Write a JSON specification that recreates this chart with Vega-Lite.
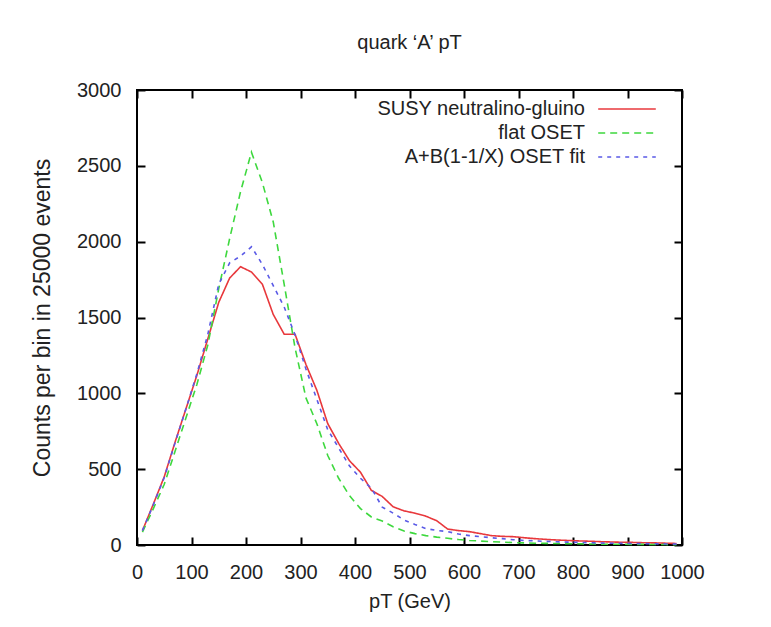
{
  "$schema": "https://vega.github.io/schema/vega-lite/v6.json",
  "width": 545,
  "height": 455,
  "autosize": {"type": "none"},
  "padding": {"left": 137, "top": 90, "right": 89, "bottom": 82},
  "background": "white",
  "config": {
    "view": {"stroke": "black", "strokeWidth": 2},
    "font": "Liberation Sans",
    "axis": {"grid": false, "domain": false, "ticks": true, "tickColor": "black", "tickWidth": 2, "tickSize": 8, "offset": -8, "format": "d", "labelFlush": false, "labelOverlap": false, "labelColor": "#222", "titleColor": "#222", "labelFontSize": 20, "titleFontSize": 20, "titleFontWeight": "normal", "labelFont": "Liberation Sans", "titleFont": "Liberation Sans"}
  },
  "title": {"text": "quark ‘A’ pT", "fontSize": 20, "fontWeight": "normal", "font": "Liberation Sans", "color": "#222", "offset": 27},
  "data": {"values": [
    {"s":"SUSY neutralino-gluino","pt":10,"n":95},{"s":"SUSY neutralino-gluino","pt":30,"n":270},{"s":"SUSY neutralino-gluino","pt":50,"n":450},{"s":"SUSY neutralino-gluino","pt":70,"n":680},{"s":"SUSY neutralino-gluino","pt":90,"n":900},{"s":"SUSY neutralino-gluino","pt":110,"n":1120},{"s":"SUSY neutralino-gluino","pt":130,"n":1360},{"s":"SUSY neutralino-gluino","pt":150,"n":1600},{"s":"SUSY neutralino-gluino","pt":170,"n":1760},{"s":"SUSY neutralino-gluino","pt":190,"n":1835},{"s":"SUSY neutralino-gluino","pt":210,"n":1800},{"s":"SUSY neutralino-gluino","pt":230,"n":1720},{"s":"SUSY neutralino-gluino","pt":250,"n":1520},{"s":"SUSY neutralino-gluino","pt":270,"n":1390},{"s":"SUSY neutralino-gluino","pt":290,"n":1390},{"s":"SUSY neutralino-gluino","pt":310,"n":1190},{"s":"SUSY neutralino-gluino","pt":330,"n":1020},{"s":"SUSY neutralino-gluino","pt":350,"n":800},{"s":"SUSY neutralino-gluino","pt":370,"n":670},{"s":"SUSY neutralino-gluino","pt":390,"n":555},{"s":"SUSY neutralino-gluino","pt":410,"n":480},{"s":"SUSY neutralino-gluino","pt":430,"n":360},{"s":"SUSY neutralino-gluino","pt":450,"n":320},{"s":"SUSY neutralino-gluino","pt":470,"n":252},{"s":"SUSY neutralino-gluino","pt":490,"n":225},{"s":"SUSY neutralino-gluino","pt":510,"n":210},{"s":"SUSY neutralino-gluino","pt":530,"n":190},{"s":"SUSY neutralino-gluino","pt":550,"n":160},{"s":"SUSY neutralino-gluino","pt":570,"n":105},{"s":"SUSY neutralino-gluino","pt":590,"n":95},{"s":"SUSY neutralino-gluino","pt":610,"n":88},{"s":"SUSY neutralino-gluino","pt":630,"n":75},{"s":"SUSY neutralino-gluino","pt":650,"n":62},{"s":"SUSY neutralino-gluino","pt":670,"n":57},{"s":"SUSY neutralino-gluino","pt":690,"n":55},{"s":"SUSY neutralino-gluino","pt":710,"n":48},{"s":"SUSY neutralino-gluino","pt":730,"n":42},{"s":"SUSY neutralino-gluino","pt":750,"n":37},{"s":"SUSY neutralino-gluino","pt":770,"n":33},{"s":"SUSY neutralino-gluino","pt":790,"n":30},{"s":"SUSY neutralino-gluino","pt":810,"n":27},{"s":"SUSY neutralino-gluino","pt":830,"n":25},{"s":"SUSY neutralino-gluino","pt":850,"n":22},{"s":"SUSY neutralino-gluino","pt":870,"n":20},{"s":"SUSY neutralino-gluino","pt":890,"n":18},{"s":"SUSY neutralino-gluino","pt":910,"n":17},{"s":"SUSY neutralino-gluino","pt":930,"n":15},{"s":"SUSY neutralino-gluino","pt":950,"n":14},{"s":"SUSY neutralino-gluino","pt":970,"n":12},{"s":"SUSY neutralino-gluino","pt":990,"n":10},
    {"s":"flat OSET","pt":10,"n":85},{"s":"flat OSET","pt":30,"n":240},{"s":"flat OSET","pt":50,"n":400},{"s":"flat OSET","pt":70,"n":620},{"s":"flat OSET","pt":90,"n":840},{"s":"flat OSET","pt":110,"n":1060},{"s":"flat OSET","pt":130,"n":1320},{"s":"flat OSET","pt":150,"n":1690},{"s":"flat OSET","pt":170,"n":2020},{"s":"flat OSET","pt":190,"n":2330},{"s":"flat OSET","pt":210,"n":2590},{"s":"flat OSET","pt":230,"n":2390},{"s":"flat OSET","pt":250,"n":2130},{"s":"flat OSET","pt":270,"n":1720},{"s":"flat OSET","pt":290,"n":1300},{"s":"flat OSET","pt":310,"n":970},{"s":"flat OSET","pt":330,"n":800},{"s":"flat OSET","pt":350,"n":590},{"s":"flat OSET","pt":370,"n":440},{"s":"flat OSET","pt":390,"n":325},{"s":"flat OSET","pt":410,"n":240},{"s":"flat OSET","pt":430,"n":185},{"s":"flat OSET","pt":450,"n":158},{"s":"flat OSET","pt":470,"n":120},{"s":"flat OSET","pt":490,"n":92},{"s":"flat OSET","pt":510,"n":75},{"s":"flat OSET","pt":530,"n":62},{"s":"flat OSET","pt":550,"n":52},{"s":"flat OSET","pt":570,"n":44},{"s":"flat OSET","pt":590,"n":36},{"s":"flat OSET","pt":610,"n":30},{"s":"flat OSET","pt":630,"n":26},{"s":"flat OSET","pt":650,"n":22},{"s":"flat OSET","pt":670,"n":19},{"s":"flat OSET","pt":690,"n":16},{"s":"flat OSET","pt":710,"n":14},{"s":"flat OSET","pt":730,"n":12},{"s":"flat OSET","pt":750,"n":11},{"s":"flat OSET","pt":770,"n":10},{"s":"flat OSET","pt":790,"n":9},{"s":"flat OSET","pt":810,"n":8},{"s":"flat OSET","pt":830,"n":7},{"s":"flat OSET","pt":850,"n":6},{"s":"flat OSET","pt":870,"n":5},{"s":"flat OSET","pt":890,"n":5},{"s":"flat OSET","pt":910,"n":4},{"s":"flat OSET","pt":930,"n":4},{"s":"flat OSET","pt":950,"n":3},{"s":"flat OSET","pt":970,"n":3},{"s":"flat OSET","pt":990,"n":2},
    {"s":"A+B(1-1/X) OSET fit","pt":10,"n":95},{"s":"A+B(1-1/X) OSET fit","pt":30,"n":265},{"s":"A+B(1-1/X) OSET fit","pt":50,"n":445},{"s":"A+B(1-1/X) OSET fit","pt":70,"n":675},{"s":"A+B(1-1/X) OSET fit","pt":90,"n":900},{"s":"A+B(1-1/X) OSET fit","pt":110,"n":1130},{"s":"A+B(1-1/X) OSET fit","pt":130,"n":1390},{"s":"A+B(1-1/X) OSET fit","pt":150,"n":1720},{"s":"A+B(1-1/X) OSET fit","pt":170,"n":1860},{"s":"A+B(1-1/X) OSET fit","pt":190,"n":1905},{"s":"A+B(1-1/X) OSET fit","pt":210,"n":1966},{"s":"A+B(1-1/X) OSET fit","pt":230,"n":1850},{"s":"A+B(1-1/X) OSET fit","pt":250,"n":1710},{"s":"A+B(1-1/X) OSET fit","pt":270,"n":1570},{"s":"A+B(1-1/X) OSET fit","pt":290,"n":1385},{"s":"A+B(1-1/X) OSET fit","pt":310,"n":1160},{"s":"A+B(1-1/X) OSET fit","pt":330,"n":960},{"s":"A+B(1-1/X) OSET fit","pt":350,"n":760},{"s":"A+B(1-1/X) OSET fit","pt":370,"n":640},{"s":"A+B(1-1/X) OSET fit","pt":390,"n":520},{"s":"A+B(1-1/X) OSET fit","pt":410,"n":440},{"s":"A+B(1-1/X) OSET fit","pt":430,"n":375},{"s":"A+B(1-1/X) OSET fit","pt":450,"n":250},{"s":"A+B(1-1/X) OSET fit","pt":470,"n":210},{"s":"A+B(1-1/X) OSET fit","pt":490,"n":165},{"s":"A+B(1-1/X) OSET fit","pt":510,"n":135},{"s":"A+B(1-1/X) OSET fit","pt":530,"n":108},{"s":"A+B(1-1/X) OSET fit","pt":550,"n":96},{"s":"A+B(1-1/X) OSET fit","pt":570,"n":88},{"s":"A+B(1-1/X) OSET fit","pt":590,"n":72},{"s":"A+B(1-1/X) OSET fit","pt":610,"n":62},{"s":"A+B(1-1/X) OSET fit","pt":630,"n":55},{"s":"A+B(1-1/X) OSET fit","pt":650,"n":48},{"s":"A+B(1-1/X) OSET fit","pt":670,"n":42},{"s":"A+B(1-1/X) OSET fit","pt":690,"n":35},{"s":"A+B(1-1/X) OSET fit","pt":710,"n":30},{"s":"A+B(1-1/X) OSET fit","pt":730,"n":27},{"s":"A+B(1-1/X) OSET fit","pt":750,"n":24},{"s":"A+B(1-1/X) OSET fit","pt":770,"n":21},{"s":"A+B(1-1/X) OSET fit","pt":790,"n":19},{"s":"A+B(1-1/X) OSET fit","pt":810,"n":17},{"s":"A+B(1-1/X) OSET fit","pt":830,"n":15},{"s":"A+B(1-1/X) OSET fit","pt":850,"n":13},{"s":"A+B(1-1/X) OSET fit","pt":870,"n":12},{"s":"A+B(1-1/X) OSET fit","pt":890,"n":11},{"s":"A+B(1-1/X) OSET fit","pt":910,"n":10},{"s":"A+B(1-1/X) OSET fit","pt":930,"n":9},{"s":"A+B(1-1/X) OSET fit","pt":950,"n":8},{"s":"A+B(1-1/X) OSET fit","pt":970,"n":7},{"s":"A+B(1-1/X) OSET fit","pt":990,"n":6}
  ]},
  "layer": [
    {
      "mark": {"type": "line", "strokeWidth": 1.6},
      "encoding": {
        "x": {"field": "pt", "type": "quantitative", "scale": {"domain": [0, 1000], "nice": false},
              "axis": {"orient": "bottom", "values": [0,100,200,300,400,500,600,700,800,900,1000], "labelPadding": 17, "title": "pT (GeV)", "titlePadding": 9}},
        "y": {"field": "n", "type": "quantitative", "scale": {"domain": [0, 3000], "nice": false},
              "axis": {"orient": "left", "values": [0,500,1000,1500,2000,2500,3000], "labelPadding": 16, "title": "Counts per bin in 25000 events", "titleFontSize": 23, "titlePadding": 22}},
        "color": {"field": "s", "type": "nominal",
                  "scale": {"domain": ["SUSY neutralino-gluino", "flat OSET", "A+B(1-1/X) OSET fit"], "range": ["#e8383c", "#3ed83e", "#5a5ae6"]},
                  "legend": {"title": null, "orient": "none", "legendX": 477, "legendY": 6, "symbolType": "M-2.4,0H2.4", "symbolSize": 576, "symbolStrokeWidth": 1.6, "labelAlign": "right", "labelOffset": -55, "labelFontSize": 20, "labelFont": "Liberation Sans", "labelColor": "#222", "labelLimit": 400, "rowPadding": 1}},
        "strokeDash": {"field": "s", "type": "nominal",
                  "scale": {"domain": ["SUSY neutralino-gluino", "flat OSET", "A+B(1-1/X) OSET fit"], "range": [[1, 0], [7, 5], [4, 5]]},
                  "legend": null}
      }
    },
    {
      "mark": {"type": "line", "opacity": 0},
      "encoding": {
        "x": {"field": "pt", "type": "quantitative", "scale": {"domain": [0, 1000], "nice": false}, "axis": {"orient": "top", "values": [0,100,200,300,400,500,600,700,800,900,1000], "labels": false, "title": null}},
        "y": {"field": "n", "type": "quantitative", "scale": {"domain": [0, 3000], "nice": false}, "axis": {"orient": "right", "values": [0,500,1000,1500,2000,2500,3000], "labels": false, "title": null}}
      }
    }
  ],
  "resolve": {"axis": {"x": "independent", "y": "independent"}}
}
